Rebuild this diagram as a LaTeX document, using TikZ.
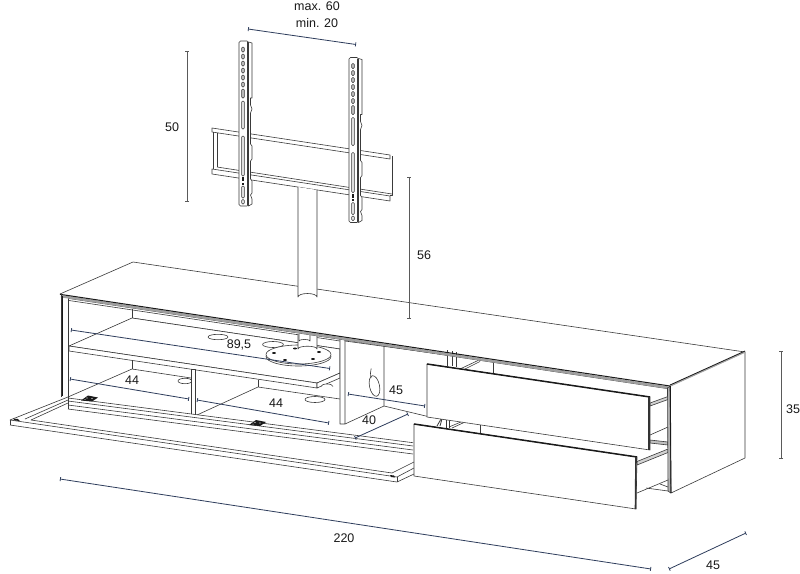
\documentclass[tikz,border=0pt]{standalone}
\usepackage{fontspec}
\usetikzlibrary{arrows.meta}
\setmainfont{Liberation Sans}
\definecolor{ink}{HTML}{3A3A3A}
\definecolor{dark}{HTML}{1A1A1A}
\definecolor{navy}{HTML}{2E3D5C}
\definecolor{steel}{HTML}{5A5A5A}
\newcommand{\tvplate}[2]{%
\begin{scope}[shift={(#1,#2)}]
 \draw[ln,fill=white] (9.5,1) -- (13,2) -- (13,57) -- (11.5,57) -- (11.5,64) -- (13,68) -- (11.5,72) -- (11.5,103) -- (13,105) -- (13,118) -- (11.5,120) -- (11.5,138) -- (13,140) -- (13,152) -- (11.5,154) -- (13,158) -- (13,163) -- (9.5,165) -- cycle;
 \draw[ln,fill=white,rounded corners=1.5pt] (0,0) rectangle (9.5,165);
 \draw[ln] (8.2,1) -- (8.2,164);
 \foreach \yy in {6,13,20,27,34,41}{\draw[ln,line width=.5pt,fill=gray!55,rounded corners=1pt] (2.7,\yy) rectangle (5.3,\yy+5);}
 \draw[ln,line width=.5pt,fill=gray!55,rounded corners=1pt] (2.7,48) rectangle (5.3,57);
 \draw[ln,line width=.5pt,fill=gray!25,rounded corners=1pt] (2.7,60) rectangle (5.3,88);
 \draw[ln,line width=.5pt,fill=gray!25,rounded corners=1pt] (2.7,95) rectangle (5.3,135);
 \fill[dark] (3,136) rectangle (5,140);
 \fill[dark] (3.2,141.5) rectangle (4.8,143.5);
 \draw[ln,line width=.5pt,fill=gray!25,rounded corners=1pt] (2.7,145) rectangle (5.3,157);
 \draw[ln,line width=.5pt,fill=gray!25,rounded corners=1pt] (2.7,158.5) rectangle (5.3,163);
\end{scope}}
\tikzset{
 ln/.style={draw=ink,line width=.6pt,line join=round},
 thick ln/.style={draw=dark,line width=1.5pt,line join=round},
 band/.style={draw=gray!75,line width=2.4pt},
 dim/.style={draw=navy,line width=.8pt,{Bar[width=4pt,length=.6pt]}-{Bar[width=4pt,length=.6pt]}},
 grdim/.style={draw=steel,line width=.7pt,{Bar[width=4pt,length=.6pt]}-{Bar[width=4pt,length=.6pt]}},
 lab/.style={font=\fontsize{12.5}{14}\selectfont,text=black!90,inner sep=0pt},
 hole/.style={ln,fill=white},
}
\begin{document}
\begin{tikzpicture}[x=1pt,y=-1pt]
\useasboundingbox (0,0) rectangle (800,573);
\fill[white] (0,0) rectangle (800,573);

% TV bar and brackets
\draw[ln] (212,128) -- (390,155) -- (390,159) -- (212,132) -- cycle;
\draw[ln] (213,132) -- (213,169);
\draw[ln] (217,133) -- (217,167);
\draw[ln] (392,156) -- (392,195) -- (390,195);
\draw[ln] (217,167) -- (392,194);
\draw[ln] (212,169) -- (390,196) -- (390,201) -- (212,174) -- cycle;
\tvplate{239}{41}
\tvplate{349}{57.5}

% top surface
\draw[ln] (60,294) -- (133,262) -- (745,352);
% pole
\draw[ln,fill=white] (298,187) -- (298,297) arc[start angle=180,end angle=360,x radius=9.5,y radius=3.5] -- (317,190);

% cabinet interior
\draw[ln] (69,300.5) -- (340,341);
\draw[ln] (132,309) -- (132,318);
\draw[ln] (132,318) -- (340,349);
\draw[ln] (68,297) -- (68,398);

% shelf
\draw[ln,fill=white] (69,346) -- (132,318) -- (340,349) -- (340,373) -- (317,383) -- cycle;
\draw[hole] (218,337) ellipse[x radius=10,y radius=2.7];
\draw[hole] (273,344.5) ellipse[x radius=10.5,y radius=3];
% disc and pipe
\draw[ln,fill=white] (298.5,356.5) ellipse[x radius=32.5,y radius=9.5];
\draw[ln,fill=white] (298.5,354.5) ellipse[x radius=32.5,y radius=9.5];
\draw[ln,fill=white] (298,334) -- (298,349) arc[start angle=180,end angle=360,x radius=9.5,y radius=2.8] -- (317,335);
\draw[ln,fill=white] (299,334) -- (299,341) arc[start angle=180,end angle=360,x radius=5.5,y radius=1.6] -- (310,335);
\foreach \px/\py in {274/353,295/348.5,319/352,285/360,313/359}{\fill[dark] (\px,\py) ellipse[x radius=2,y radius=.9];}
\draw[ln,fill=white] (69,346) -- (317,383) -- (317,388) -- (69,351) -- cycle;
\draw[ln,fill=white] (317,383) -- (340,373) -- (340,378) -- (317,388) -- cycle;
\draw[ln,fill=white] (321,386.5) arc[start angle=180,end angle=360,x radius=6,y radius=2.5];

% lower compartment
\draw[ln] (132,360) -- (132,369);
\draw[ln] (68,397) -- (132,369) -- (191,378);
\draw[ln] (197,415) -- (258,387) -- (340,399);
\draw[ln] (258,380) -- (258,387);
\draw[hole] (185,381) ellipse[x radius=7,y radius=2.7];
\draw[hole] (315,399.5) ellipse[x radius=10,y radius=3];
\draw[ln,fill=white] (191,369) rectangle (195,415);

% big divider
\draw[ln,fill=white] (340,338) -- (345,339) -- (345,424) -- (340,424) -- cycle;
\draw[ln] (345,424) -- (384,406) -- (384,346);
\draw[ln] (384,406) -- (430,417);
\draw[ln] (345,341) -- (447,355);
\draw[hole,rotate around={12:(374.5,386)}] (374.5,386) ellipse[x radius=5,y radius=10.5];
\draw[ln] (371,378) arc[start angle=150,end angle=215,x radius=4,y radius=9];

% upper right back detail
\draw[ln] (447,350) -- (447,366) (452,351) -- (452,366) (456,352) -- (456,367);
\draw[ln] (493,362) -- (493,375);
\draw[ln] (460,369) -- (478,360.5) (463,370) -- (480,361.5);
\draw[ln,fill=white] (562,371) circle (1.3);

% top rail
\draw[ln] (69,298.5) -- (670,389);
\draw[band] (61,296.2) -- (668,387.6);
\draw[thick ln,line width=1pt] (60,294.3) -- (670,386);
\draw[ln] (61,294) -- (61,397);
\draw[thick ln,line width=1.2pt] (62.5,296) -- (62.5,396);

% door
\fill[white] (68,398) -- (413,443) -- (414,468) -- (397,477) -- (397,482) -- (10,425) -- (10,420) -- cycle;
\draw[ln] (10,420) -- (68,397);
\draw[ln] (25,419) -- (68,400);
\draw[ln] (31,420) -- (68,403);
\draw[ln] (68,398) -- (413,442.7);
\draw[ln] (68,401) -- (413,446);
\draw[ln] (68,405) -- (413,450);
\draw[ln] (68,409) -- (413,454);
\draw[ln] (68,397) -- (68,409);
\draw[ln] (31,420) -- (392,473);
\draw[ln] (10,420) -- (397,477);
\draw[ln] (10,425) -- (397,482);
\draw[ln] (10,420) -- (10,425);
\draw[ln] (397,477) -- (397,482);
\draw[ln] (397,477) -- (414,468);
\draw[ln] (397,482) -- (414,474);
\draw[ln] (392,473) -- (414,462);
% hinges
\foreach \hx/\hy in {90/398.5,258/423}{
 \fill[dark] (\hx-9,\hy+2) -- (\hx-2,\hy-3) -- (\hx+8,\hy-1) -- (\hx+2,\hy+3) -- cycle;
 \fill[white] (\hx-3,\hy-.5) circle (.6) (\hx+2,\hy) circle (.6) (\hx-5,\hy+1) circle (.5);
}
\fill[dark] (13,418.5) -- (18,419) -- (20,421) -- (15,420.5) -- cycle;
\fill[dark] (390,475) -- (394,475.5) -- (395,477.5) -- (391,477) -- cycle;

% right side panel
\draw[ln,fill=white] (670,386) -- (745,352) -- (745,458) -- (671,493) -- cycle;
\draw[band,draw=gray!70,line width=1.4pt] (670,386) -- (745,352);
\draw[thick ln,line width=.8pt] (670,385) -- (745,351);

% interior under drawers
\draw[ln,fill=white] (428,417) arc[start angle=180,end angle=360,x radius=5,y radius=2.5];
\draw[ln,line width=.8pt] (437,426) -- (441,419) (440,426) -- (442,419);
\draw[ln] (446,420) -- (446,428) (449,420) -- (449,428);
\draw[ln] (449,427) -- (462,421.5) (452,428) -- (464,422.5);
\draw[ln] (480,425) -- (480,434);
% top drawer rails
\draw[ln,fill=gray!35] (650,403) -- (668,396.5) -- (668,399.5) -- (650,406) -- cycle;
\draw[ln] (650,435) -- (668,427);
\draw[ln,fill=gray!50] (650,440) -- (668,442) -- (668,445) -- (650,443) -- cycle;
% lower drawer rails
\draw[ln,fill=gray!35] (637,461.5) -- (668,449) -- (668,452.5) -- (637,465) -- cycle;
\draw[ln] (637,493) -- (668,480);
\draw[ln] (646,488) -- (668,491);
\draw[ln] (660,484) -- (668,487);
% side edge strip
\draw[ln,fill=gray!60] (667.5,388) -- (670,386) -- (670.8,493) -- (668,491) -- cycle;
\draw[thick ln,line width=.9pt] (670.3,386) -- (671,493);
% drawers
\draw[ln,fill=white] (427,364) -- (650,397) -- (650,450) -- (427,417) -- cycle;
\draw[thick ln] (427,364) -- (650,397);
\draw[thick ln,draw=black!80,line width=1.6pt] (649,397) -- (649,450);
\draw[ln,fill=white] (414,424) -- (637,457) -- (636,509) -- (414,476) -- cycle;
\draw[thick ln] (414,424) -- (637,457);
\draw[thick ln,draw=black!80,line width=1.6pt] (636,457) -- (635.5,509);

% dimension coordinates
\coordinate (a1) at (248,29); \coordinate (a2) at (356,44.5);
\coordinate (b1) at (187,50.5); \coordinate (b2) at (187,202);
\coordinate (c1) at (409,176.5); \coordinate (c2) at (409,319);
\coordinate (d1) at (71,330); \coordinate (d2) at (330,368.5);
\coordinate (e1) at (70,379); \coordinate (e2) at (189,399);
\coordinate (f1) at (197,400); \coordinate (f2) at (329,423);
\coordinate (g1) at (348,394); \coordinate (g2) at (425,406);
\coordinate (h1) at (355,438); \coordinate (h2) at (408,414);
\coordinate (i1) at (60,479); \coordinate (i2) at (651,569);
\coordinate (j1) at (669,569); \coordinate (j2) at (746,533);
\coordinate (k1) at (781,351); \coordinate (k2) at (781,459);
\draw[dim] (a1) -- (a2);
\draw[grdim] (b1) -- (b2);
\draw[grdim] (c1) -- (c2);
\draw[dim] (d1) -- (d2);
\draw[dim] (e1) -- (e2);
\draw[dim] (f1) -- (f2);
\draw[dim] (g1) -- (g2);
\draw[dim] (h1) -- (h2);
\draw[dim] (i1) -- (i2);
\draw[dim] (j1) -- (j2);
\draw[grdim] (k1) -- (k2);

% labels
\node[lab] (tmax) at (317,6) {max. 60};
\node[lab] (tmin) at (317,23) {min. 20};
\node[lab] (t50) at (172,127) {50};
\node[lab] (t56) at (424,255) {56};
\node[lab] (t895) at (239,345) {89,5};
\node[lab] (t44a) at (132,380) {44};
\node[lab] (t44b) at (276,403) {44};
\node[lab] (t45a) at (396,390) {45};
\node[lab] (t40) at (369,420) {40};
\node[lab] (t220) at (344,538) {220};
\node[lab] (t45b) at (713,565) {45};
\node[lab] (t35) at (793,409) {35};
\end{tikzpicture}
\end{document}
